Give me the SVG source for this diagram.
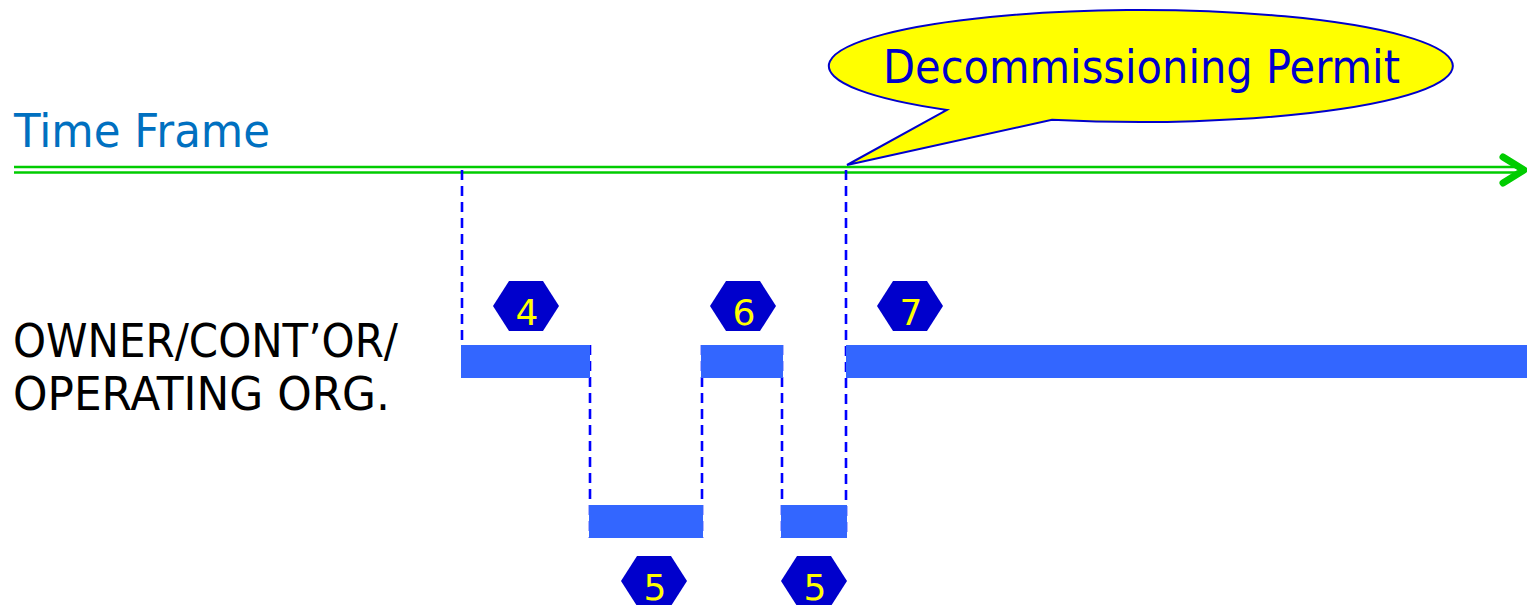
<svg xmlns="http://www.w3.org/2000/svg" width="1527" height="605" viewBox="0 0 1527 605">
<style>
.lbl{font-family:"DejaVu Sans","Noto Sans",sans-serif;font-size:47px}
.dig{font-family:"DejaVu Sans","Noto Sans",sans-serif;font-size:36px;fill:#FFFF00;text-anchor:middle}
.hex{fill:#0000CC}
.bar{fill:#3366FF}
.dash{stroke:#0000FF;stroke-width:2.6;stroke-dasharray:10 6;fill:none}
.green{stroke:#00CC00;stroke-width:2.6;fill:none}
</style>
<rect width="1527" height="605" fill="#FFFFFF"/>
<g id="time-frame">
<text class="lbl" x="14" y="147" fill="#0070C0" textLength="256" lengthAdjust="spacingAndGlyphs">Time Frame</text>
<line class="green" x1="14" y1="167" x2="1521" y2="167"/>
<line class="green" x1="14" y1="172.5" x2="1521" y2="172.5"/>
<polyline points="1503,157 1524,170 1503,183" fill="none" stroke="#00CC00" stroke-width="7" stroke-linecap="round" stroke-linejoin="round"/>
</g>
<g id="label-org">
<text class="lbl" x="13" y="357" fill="#000000" textLength="385" lengthAdjust="spacingAndGlyphs">OWNER/CONT’OR/</text>
<text class="lbl" x="13" y="410" fill="#000000" textLength="377" lengthAdjust="spacingAndGlyphs">OPERATING ORG.</text>
</g>
<g id="callout">
<path d="M947,109.9 L847,165 L1052,119.7 A312,56 0 1 0 947,109.9 Z" fill="#FFFF00" stroke="#0000CC" stroke-width="2" stroke-linejoin="miter"/>
<text class="lbl" x="1141.5" y="83" fill="#0000CC" text-anchor="middle" textLength="517" lengthAdjust="spacingAndGlyphs">Decommissioning Permit</text>
</g>
<g id="connectors">
<line class="dash" x1="462" y1="170" x2="462" y2="346"/>
<line class="dash" x1="590" y1="345" x2="590" y2="538"/>
<line class="dash" x1="702" y1="345" x2="702" y2="538"/>
<line class="dash" x1="782" y1="345" x2="782" y2="538"/>
<line class="dash" x1="846" y1="170" x2="846" y2="538"/>
</g>
<g id="bar-4"><rect class="bar" x="461" y="345" width="129" height="33"/></g>
<g id="bar-5a"><rect class="bar" x="589" y="505" width="114" height="33"/></g>
<g id="bar-6"><rect class="bar" x="701" y="345" width="82" height="33"/></g>
<g id="bar-5b"><rect class="bar" x="781" y="505" width="66" height="33"/></g>
<g id="bar-7"><rect class="bar" x="846" y="345" width="681" height="33"/></g>
<g id="hex-4"><polygon class="hex" points="493,306 509,281 543,281 559,306 543,331 509,331"/><text class="dig" x="527" y="325">4</text></g>
<g id="hex-6"><polygon class="hex" points="710,306 726,281 760,281 776,306 760,331 726,331"/><text class="dig" x="744" y="325">6</text></g>
<g id="hex-7"><polygon class="hex" points="877,306 893,281 927,281 943,306 927,331 893,331"/><text class="dig" x="911" y="325">7</text></g>
<g id="hex-5a"><polygon class="hex" points="621,581 637,556 671,556 687,581 671,606 637,606"/><text class="dig" x="655" y="600">5</text></g>
<g id="hex-5b"><polygon class="hex" points="781,581 797,556 831,556 847,581 831,606 797,606"/><text class="dig" x="815" y="600">5</text></g>
</svg>
